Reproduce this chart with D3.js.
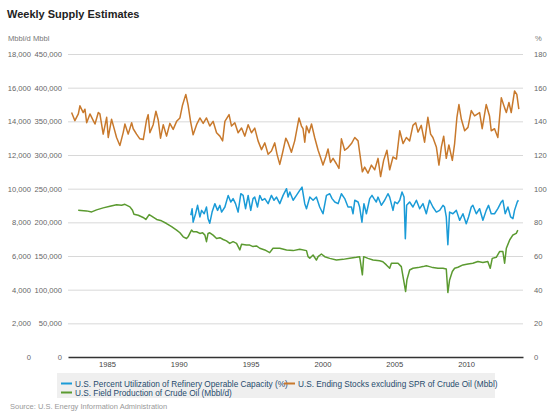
<!DOCTYPE html>
<html><head><meta charset="utf-8">
<script src="https://cdn.jsdelivr.net/npm/d3@7"></script>
<style>
html,body{margin:0;padding:0;background:#fff;}
svg{display:block;font-family:"Liberation Sans",Arial,Helvetica,sans-serif;}
</style></head>
<body><svg id="c" width="550" height="413"></svg>
<script>
// ---- data (decimal year, value) ----
const stocksData = [ // U.S. Ending Stocks excluding SPR of Crude Oil (Mbbl)
[1982.54,363000],[1982.77,351000],[1983.01,361000],[1983.12,373000],[1983.35,363000],[1983.47,368000],[1983.59,348000],[1983.82,361000],
[1984.05,351000],[1984.17,346000],[1984.40,363000],[1984.51,361000],[1984.74,331000],[1984.98,356000],[1985.09,326000],[1985.32,353000],
[1985.44,344000],[1985.67,326000],[1985.90,314000],[1986.14,334000],[1986.25,346000],[1986.48,331000],[1986.72,348000],[1986.83,339000],
[1987.06,331000],[1987.29,324000],[1987.53,323000],[1987.76,352000],[1987.87,360000],[1987.99,333000],[1988.22,345000],[1988.41,365000],
[1988.57,352000],[1988.73,325000],[1988.92,345000],[1989.15,328000],[1989.38,347000],[1989.61,338000],[1989.85,350000],[1990.08,355000],
[1990.26,374000],[1990.49,390000],[1990.65,374000],[1990.82,350000],[1991.00,330000],[1991.24,345000],[1991.47,355000],[1991.70,347000],
[1991.93,355000],[1992.16,343000],[1992.39,350000],[1992.63,333000],[1992.86,328000],[1993.05,321000],[1993.21,350000],[1993.50,360000],
[1993.67,343000],[1993.90,348000],[1994.13,333000],[1994.37,340000],[1994.60,328000],[1994.83,345000],[1995.06,333000],[1995.29,340000],
[1995.52,321000],[1995.76,308000],[1995.99,318000],[1996.22,301000],[1996.45,306000],[1996.68,318000],[1996.84,301000],[1997.03,286000],
[1997.22,303000],[1997.45,325000],[1997.61,318000],[1997.84,304000],[1998.07,321000],[1998.37,355000],[1998.54,343000],[1998.65,339000],
[1998.77,319000],[1998.89,343000],[1999.07,333000],[1999.24,346000],[1999.46,326000],[1999.70,307000],[1999.86,297000],[2000.04,285000],
[2000.23,297000],[2000.39,309000],[2000.56,289000],[2000.74,295000],[2000.97,287000],[2001.15,280000],[2001.32,324000],[2001.55,307000],
[2001.78,311000],[2002.02,317000],[2002.25,326000],[2002.48,321000],[2002.59,304000],[2002.78,275000],[2002.94,282000],[2003.17,273000],
[2003.41,285000],[2003.64,278000],[2003.87,295000],[2004.05,268000],[2004.26,292000],[2004.49,307000],[2004.68,278000],[2004.91,297000],
[2005.15,294000],[2005.38,336000],[2005.61,317000],[2005.84,326000],[2006.07,321000],[2006.30,344000],[2006.49,348000],[2006.65,334000],
[2006.88,344000],[2007.11,319000],[2007.34,356000],[2007.53,331000],[2007.69,326000],[2007.93,312000],[2008.11,285000],[2008.28,312000],
[2008.44,328000],[2008.62,295000],[2008.80,315000],[2009.04,292000],[2009.20,317000],[2009.36,356000],[2009.50,375000],[2009.67,353000],
[2009.90,336000],[2010.13,341000],[2010.36,366000],[2010.59,358000],[2010.94,363000],[2011.12,339000],[2011.40,375000],[2011.63,358000],
[2011.75,336000],[2011.98,339000],[2012.21,326000],[2012.45,385000],[2012.68,370000],[2012.80,363000],[2012.98,378000],[2013.14,363000],
[2013.37,395000],[2013.53,390000],[2013.67,368000]
];
const utilData = [ // U.S. Percent Utilization of Refinery Operable Capacity (%)
[1990.84,84.2],[1990.93,88.1],[1991.00,80.1],[1991.17,85.1],[1991.31,90.1],[1991.47,83.2],[1991.59,87.1],[1991.77,85.1],[1991.93,89.1],
[1992.04,82.2],[1992.16,79.5],[1992.32,86.1],[1992.51,91.1],[1992.70,87.1],[1992.86,90.1],[1992.98,86.1],[1993.21,89.1],[1993.44,96.0],
[1993.62,92.1],[1993.78,94.1],[1993.95,91.1],[1994.13,86.1],[1994.32,97.0],[1994.48,96.0],[1994.65,88.1],[1994.83,96.0],[1995.01,87.1],
[1995.17,94.1],[1995.29,95.0],[1995.48,89.1],[1995.64,96.0],[1995.80,93.1],[1995.99,94.1],[1996.22,91.1],[1996.45,96.0],[1996.63,93.1],
[1996.80,95.0],[1997.03,91.1],[1997.26,96.0],[1997.50,100.0],[1997.61,95.0],[1997.73,98.0],[1997.96,93.1],[1998.19,96.0],[1998.42,99.0],
[1998.58,100.9],[1998.77,91.1],[1998.89,88.1],[1999.12,95.0],[1999.35,93.1],[1999.58,95.0],[1999.81,89.1],[2000.04,85.1],[2000.28,96.0],
[2000.51,97.0],[2000.67,94.1],[2000.86,92.1],[2001.09,91.1],[2001.32,97.0],[2001.55,94.1],[2001.78,89.1],[2002.02,89.1],[2002.13,85.1],
[2002.25,93.1],[2002.48,92.1],[2002.59,89.1],[2002.75,80.1],[2002.89,91.1],[2003.06,85.1],[2003.29,94.1],[2003.45,96.0],[2003.59,94.1],
[2003.75,92.1],[2003.87,95.0],[2004.10,90.1],[2004.33,93.1],[2004.56,97.0],[2004.68,95.0],[2004.91,87.1],[2005.03,92.1],[2005.22,91.1],
[2005.38,93.1],[2005.54,98.0],[2005.68,95.0],[2005.77,70.3],[2005.86,90.1],[2006.07,92.1],[2006.30,89.1],[2006.54,93.1],[2006.77,88.1],
[2007.00,91.1],[2007.23,85.1],[2007.46,93.1],[2007.69,89.1],[2007.93,86.1],[2008.16,87.1],[2008.39,90.1],[2008.50,89.1],[2008.62,83.2],
[2008.73,66.7],[2008.85,86.1],[2009.08,85.1],[2009.32,87.1],[2009.55,81.2],[2009.78,85.1],[2010.01,79.2],[2010.17,83.2],[2010.36,89.1],
[2010.47,90.1],[2010.71,85.1],[2010.94,88.1],[2011.17,81.2],[2011.40,87.1],[2011.56,90.1],[2011.75,85.1],[2011.98,85.1],[2012.21,88.1],
[2012.45,92.1],[2012.56,93.1],[2012.72,85.1],[2012.91,89.1],[2013.10,83.2],[2013.26,82.2],[2013.37,87.1],[2013.56,92.1],[2013.64,93.1]
];
const prodData = [ // U.S. Field Production of Crude Oil (Mbbl/d)
[1983.00,8720],[1983.58,8680],[1983.94,8620],[1984.28,8740],[1984.74,8860],[1985.21,8955],[1985.67,9050],[1986.02,9010],[1986.25,9070],
[1986.60,8920],[1986.78,8720],[1986.88,8480],[1987.18,8420],[1987.52,8290],[1987.71,8170],[1987.94,8460],[1988.11,8370],[1988.46,8170],
[1988.80,8090],[1989.15,7930],[1989.50,7740],[1989.85,7540],[1990.08,7380],[1990.31,7140],[1990.54,7040],[1990.65,7140],[1990.77,7340],
[1990.89,7540],[1991.00,7440],[1991.24,7440],[1991.47,7340],[1991.66,7380],[1991.82,7240],[1991.93,6850],[1992.04,7340],[1992.16,7380],
[1992.39,7240],[1992.63,7040],[1992.86,7090],[1993.09,6980],[1993.32,6900],[1993.55,6750],[1993.78,6850],[1994.02,6750],[1994.25,6360],
[1994.37,6700],[1994.71,6650],[1994.94,6650],[1995.17,6560],[1995.41,6600],[1995.64,6460],[1995.99,6360],[1996.33,6200],[1996.56,6460],
[1997.03,6460],[1997.50,6360],[1997.96,6320],[1998.42,6400],[1998.89,6320],[1999.00,5960],[1999.12,5870],[1999.35,6060],[1999.58,5760],
[1999.70,5960],[1999.93,6120],[2000.16,5960],[2000.51,5860],[2000.97,5760],[2001.43,5800],[2001.90,5860],[2002.36,5920],[2002.59,5960],
[2002.78,4880],[2002.87,5960],[2003.17,5860],[2003.52,5760],[2003.98,5720],[2004.21,5660],[2004.45,5470],[2004.68,5270],[2004.80,5570],
[2005.03,5570],[2005.26,5570],[2005.49,5370],[2005.61,4780],[2005.79,3890],[2005.88,4580],[2006.07,5170],[2006.30,5270],[2006.65,5310],
[2007.00,5370],[2007.23,5420],[2007.46,5370],[2007.69,5310],[2008.04,5270],[2008.39,5270],[2008.62,5230],[2008.73,3830],[2008.85,4580],
[2009.04,5080],[2009.20,5270],[2009.43,5330],[2009.78,5470],[2010.13,5530],[2010.47,5570],[2010.82,5670],[2011.17,5620],[2011.51,5670],
[2011.68,5270],[2011.82,5860],[2012.10,5920],[2012.33,6260],[2012.56,6260],[2012.68,5570],[2012.80,6460],[2013.03,6950],[2013.26,7250],
[2013.49,7340],[2013.60,7540]
];
const yearTicks = [1985, 1990, 1995, 2000, 2005, 2010];
const seriesNames = [
  "U.S. Percent Utilization of Refinery Operable Capacity (%)",
  "U.S. Ending Stocks excluding SPR of Crude Oil (Mbbl)",
  "U.S. Field Production of Crude Oil (Mbbl/d)"
];
const colors = {util:"#1a9bd7", stocks:"#c8792c", prod:"#5b9a30"};

// ---- layout ----
const svg = d3.select("#c");
const L = 68, R = 523, T = 54, B = 357;
function dy(y){const Y=Math.floor(y);const s=Date.UTC(Y,0,1),e=Date.UTC(Y+1,0,1);return new Date(s+(y-Y)*(e-s));}
const x = d3.scaleUtc().domain([dy(1982.29), dy(2013.96)]).range([L, R]);
const yProd = d3.scaleLinear().domain([0,18000]).range([B,T]);
const yStock = d3.scaleLinear().domain([0,450000]).range([B,T]);
const yPct = d3.scaleLinear().domain([0,180]).range([B,T]);

// title
svg.append("text").attr("x",7).attr("y",18).attr("font-size",11).attr("font-weight","bold")
  .attr("fill","#222").text("Weekly Supply Estimates");

// gridlines
const grid = svg.append("g").attr("transform",`translate(${L},0)`)
  .call(d3.axisLeft(yProd).tickValues(d3.range(2000,18001,2000)).tickSize(-(R-L)).tickFormat(""));
grid.select(".domain").remove();
grid.selectAll("line").attr("stroke","#d8d8d8").attr("stroke-width",1);

const fmt = d3.format(",");
function styleAxis(g){
  g.select(".domain").remove();
  g.selectAll("text").attr("fill","#666").attr("font-size",7.6)
   .attr("font-family","'Liberation Sans',Arial,sans-serif");
}
svg.append("g").attr("transform","translate(31,0)")
  .call(d3.axisLeft(yProd).tickValues(d3.range(0,18001,2000)).tickSize(0).tickPadding(0).tickFormat(fmt)).call(styleAxis);
svg.append("g").attr("transform","translate(62,0)")
  .call(d3.axisLeft(yStock).tickValues(d3.range(0,450001,50000)).tickSize(0).tickPadding(0).tickFormat(fmt)).call(styleAxis);
svg.append("g").attr("transform","translate(534,0)")
  .call(d3.axisRight(yPct).tickValues(d3.range(0,181,20)).tickSize(0).tickPadding(0).tickFormat(fmt)).call(styleAxis);

// axis titles
svg.append("text").attr("x",8).attr("y",41).attr("font-size",7.6).attr("fill","#777").text("Mbbl/d Mbbl");
svg.append("text").attr("x",535).attr("y",41).attr("font-size",7.6).attr("fill","#777").text("%");

// x axis
const xa = svg.append("g").attr("transform",`translate(0,${B})`)
  .call(d3.axisBottom(x).tickValues(yearTicks.map(y=>dy(y))).tickSize(0).tickPadding(5).tickFormat(d3.utcFormat("%Y")));
xa.select(".domain").attr("stroke","#333").attr("stroke-width",1.6);
xa.selectAll("text").attr("fill","#444").attr("font-size",7.6);

// lines
function drawLine(data, ys, color){
  svg.append("path").datum(data)
    .attr("fill","none").attr("stroke",color).attr("stroke-width",1.5).attr("stroke-linejoin","round")
    .attr("d", d3.line().x(d=>x(dy(d[0]))).y(d=>ys(d[1])));
}
drawLine(prodData, yProd, colors.prod);
drawLine(stocksData, yStock, colors.stocks);
drawLine(utilData, yPct, colors.util);

// legend
const lg = svg.append("g");
lg.append("rect").attr("x",57).attr("y",373).attr("width",438).attr("height",25).attr("fill","#efefef");
const items = [
  {name:seriesNames[0], c:colors.util, lx:61, ly:383.5},
  {name:seriesNames[1], c:colors.stocks, lx:284, ly:383.5},
  {name:seriesNames[2], c:colors.prod, lx:61, ly:392.5}
];
items.forEach(it=>{
  lg.append("line").attr("x1",it.lx).attr("x2",it.lx+11).attr("y1",it.ly).attr("y2",it.ly)
    .attr("stroke",it.c).attr("stroke-width",2);
  lg.append("text").attr("x",it.lx+14).attr("y",it.ly+3).attr("font-size",8.25).attr("fill","#274b6d").text(it.name);
});

// source
svg.append("text").attr("x",10).attr("y",409).attr("font-size",7.5).attr("fill","#999")
  .text("Source: U.S. Energy Information Administration");
</script></body></html>
